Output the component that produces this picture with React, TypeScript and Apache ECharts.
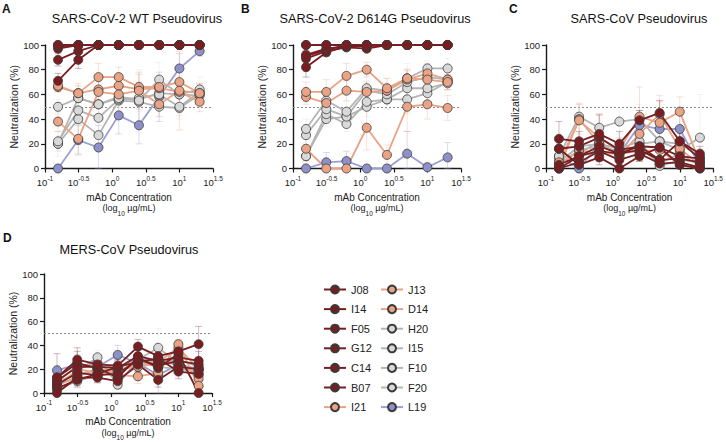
import React, { useEffect, useRef } from "react";
import * as echarts from "echarts";

// Concentrations (µg/mL), 2-fold dilutions
const concentrations = [0.15625, 0.3125, 0.625, 1.25, 2.5, 5, 10, 20];
const xTickExponents = [-1, -0.5, 0, 0.5, 1, 1.5];
const yTicks = [0, 20, 40, 60, 80, 100];

const antibodies = ["J08", "I14", "F05", "G12", "C14", "B07", "I21", "J13", "D14", "H20", "I15", "F10", "F20", "L19"];
const antibodyGroups = ["maroon", "maroon", "maroon", "maroon", "maroon", "maroon", "salmon", "salmon", "salmon", "gray", "gray", "gray", "gray", "blue"];

// Neutralization (%) per antibody (rows in antibody order), per concentration
const wtNeutralization = [
  [100, 100, 100, 100, 100, 100, 100, 100],
  [99, 100, 100, 100, 100, 100, 100, 100],
  [100, 100, 100, 100, 100, 100, 100, 100],
  [97, 100, 100, 100, 100, 100, 100, 100],
  [88, 95, 100, 100, 100, 100, 100, 100],
  [71, 88, 100, 100, 100, 100, 100, 100],
  [38, 24, 62, 60, 63, 52, 63, 61],
  [67, 61, 74, 74, 66, 66, 70, 61],
  [66, 61, 64, 67, 64, 65, 62, 54],
  [50, 57, 52, 57, 55, 72, 60, 64],
  [22, 47, 41, 56, 57, 60, 50, 62],
  [20, 40, 27, 55, 54, 50, 49, 60],
  [20, 57, 52, 58, 56, 61, 60, 59],
  [0, 23, 17, 43, 35, 58, 81, 95],
];
const wtError = [
  [0, 0, 0, 0, 0, 0, 0, 0],
  [1, 0, 0, 0, 0, 0, 0, 0],
  [2, 0, 0, 0, 0, 0, 0, 0],
  [3, 2, 0, 0, 0, 0, 0, 0],
  [5, 8, 0, 0, 0, 0, 0, 0],
  [6, 7, 1, 0, 0, 0, 0, 0],
  [8, 12, 10, 8, 15, 10, 32, 8],
  [5, 8, 11, 8, 10, 6, 8, 8],
  [4, 6, 6, 10, 6, 8, 10, 8],
  [6, 10, 8, 8, 25, 14, 15, 10],
  [8, 12, 10, 10, 20, 10, 10, 6],
  [10, 14, 12, 8, 15, 8, 6, 8],
  [6, 6, 8, 8, 10, 10, 8, 6],
  [0, 12, 18, 15, 15, 20, 12, 4],
];

const d614gNeutralization = [
  [100, 100, 100, 100, 100, 100, 100, 100],
  [100, 100, 100, 100, 100, 100, 100, 100],
  [92, 97, 99, 99, 100, 100, 100, 100],
  [89, 95, 98, 97, 100, 100, 100, 100],
  [82, 94, 99, 100, 100, 100, 100, 100],
  [91, 96, 100, 100, 100, 100, 100, 100],
  [16, 0, 0, 33, 11, 50, 52, 49],
  [62, 62, 75, 80, 65, 73, 72, 70],
  [58, 53, 63, 62, 63, 72, 77, 72],
  [32, 55, 46, 65, 63, 73, 81, 81],
  [27, 48, 42, 63, 60, 70, 74, 72],
  [10, 44, 36, 54, 56, 65, 65, 69],
  [10, 40, 42, 50, 56, 56, 61, 70],
  [0, 5, 6, 0, 0, 12, 1, 9],
];
const d614gError = [
  [0, 0, 0, 0, 0, 0, 0, 0],
  [0, 0, 0, 0, 0, 0, 0, 0],
  [3, 2, 1, 1, 0, 0, 0, 0],
  [4, 2, 1, 2, 0, 0, 0, 0],
  [8, 3, 1, 0, 0, 0, 0, 0],
  [4, 2, 0, 0, 0, 0, 0, 0],
  [10, 0, 0, 18, 8, 20, 12, 10],
  [8, 10, 10, 6, 8, 6, 8, 6],
  [6, 10, 8, 8, 6, 8, 8, 8],
  [8, 8, 8, 10, 10, 8, 6, 8],
  [8, 8, 6, 8, 8, 10, 8, 6],
  [6, 6, 6, 8, 8, 20, 10, 6],
  [6, 6, 6, 8, 8, 12, 8, 6],
  [0, 8, 8, 2, 2, 18, 4, 12],
];

const sarsNeutralization = [
  [24, 22, 28, 20, 39, 45, 22, 12],
  [16, 18, 25, 15, 18, 17, 10, 8],
  [3, 10, 18, 12, 15, 7, 8, 5],
  [0, 5, 14, 7, 12, 4, 5, 1],
  [16, 3, 9, 0, 10, 17, 3, 0],
  [0, 10, 14, 12, 18, 7, 22, 8],
  [5, 39, 25, 15, 42, 37, 46, 5],
  [0, 40, 20, 10, 28, 44, 16, 3],
  [3, 15, 12, 12, 14, 15, 3, 0],
  [10, 42, 33, 38, 40, 22, 15, 25],
  [5, 18, 20, 16, 22, 2, 7, 5],
  [2, 15, 18, 14, 17, 4, 12, 2],
  [8, 12, 22, 10, 20, 22, 20, 10],
  [10, 0, 20, 12, 35, 32, 32, 2],
];
const sarsError = [
  [14, 8, 16, 10, 8, 10, 8, 6],
  [8, 6, 10, 6, 6, 8, 6, 4],
  [4, 6, 8, 6, 6, 6, 4, 4],
  [2, 4, 6, 4, 6, 4, 4, 2],
  [8, 4, 6, 2, 4, 8, 4, 2],
  [2, 6, 8, 6, 8, 6, 10, 6],
  [6, 14, 18, 10, 24, 22, 12, 6],
  [2, 12, 10, 6, 10, 10, 10, 4],
  [4, 8, 6, 8, 8, 8, 4, 2],
  [8, 10, 10, 10, 12, 12, 10, 35],
  [4, 8, 8, 8, 8, 4, 6, 4],
  [2, 6, 8, 6, 8, 4, 8, 2],
  [6, 6, 8, 6, 8, 8, 10, 6],
  [8, 2, 10, 8, 12, 16, 14, 2],
];

const mersNeutralization = [
  [13, 28, 24, 23, 39, 31, 35, 41],
  [10, 22, 22, 21, 31, 27, 30, 27],
  [7, 17, 15, 16, 28, 23, 27, 24],
  [0, 13, 13, 10, 24, 11, 22, 20],
  [4, 11, 16, 22, 26, 29, 18, 16],
  [13, 25, 21, 13, 30, 21, 33, 0],
  [5, 20, 17, 15, 14, 17, 41, 6],
  [10, 15, 20, 19, 24, 26, 38, 20],
  [8, 12, 14, 20, 22, 25, 25, 12],
  [8, 18, 30, 7, 28, 38, 25, 15],
  [6, 14, 20, 12, 22, 30, 22, 20],
  [3, 10, 15, 18, 26, 22, 20, 18],
  [10, 22, 25, 20, 30, 25, 28, 22],
  [19, 24, 22, 32, 25, 15, 24, 20],
];
const mersError = [
  [20, 10, 6, 6, 6, 6, 6, 15],
  [6, 8, 6, 6, 6, 6, 6, 8],
  [4, 6, 4, 6, 6, 6, 6, 6],
  [2, 6, 4, 6, 6, 6, 6, 6],
  [4, 6, 4, 6, 6, 6, 6, 6],
  [6, 10, 6, 6, 6, 8, 6, 2],
  [4, 10, 8, 6, 6, 8, 4, 6],
  [6, 6, 8, 6, 6, 8, 6, 6],
  [4, 6, 6, 6, 6, 6, 6, 6],
  [4, 8, 6, 4, 8, 16, 6, 6],
  [4, 6, 6, 6, 6, 8, 6, 6],
  [2, 6, 6, 6, 6, 6, 6, 6],
  [6, 8, 6, 6, 6, 6, 6, 6],
  [4, 8, 8, 8, 8, 15, 6, 6],
];

const panelLetters = ["A", "B", "C", "D"];
const panelTitles = ["SARS-CoV-2 WT Pseudovirus", "SARS-CoV-2 D614G Pseudovirus", "SARS-CoV Pseudovirus", "MERS-CoV Pseudovirus"];

const FONT = '"Liberation Sans", Arial, Helvetica, sans-serif';

const groupStyle: Record<string, { fill: string; line: string }> = {
  maroon: { fill: "#7a1d20", line: "#7a1d20" },
  salmon: { fill: "#eba385", line: "#e9a384" },
  gray: { fill: "#d9d9d9", line: "#b4b4b4" },
  blue: { fill: "#8d91c8", line: "#9a9ed8" },
};
const groupNames = ["maroon", "salmon", "gray", "blue"];

const panels = [
  { values: wtNeutralization, errors: wtError, grid: { left: 45, top: 45, width: 168, height: 123.5 }, titleX: 137, titleY: 19, letterX: 2, letterY: 3 },
  { values: d614gNeutralization, errors: d614gError, grid: { left: 293, top: 45, width: 168, height: 123.5 }, titleX: 375, titleY: 19, letterX: 241, letterY: 3 },
  { values: sarsNeutralization, errors: sarsError, grid: { left: 546, top: 45, width: 168, height: 123.5 }, titleX: 639, titleY: 19, letterX: 509, letterY: 3 },
  { values: mersNeutralization, errors: mersError, grid: { left: 44, top: 274, width: 168, height: 123 }, titleX: 129, titleY: 250, letterX: 3, letterY: 232 },
];

function fmtExp(v: number) {
  const r = Math.round(v * 10) / 10;
  return String(r);
}

export default function App() {
  const ref = useRef<HTMLDivElement>(null);
  useEffect(() => {
    if (!ref.current) return;
    const chart = echarts.init(ref.current, undefined, { renderer: "svg" });
    const logX = concentrations.map((c) => Math.log10(c));

    const grids: any[] = [];
    const xAxes: any[] = [];
    const yAxes: any[] = [];
    const series: any[] = [];
    const graphics: any[] = [];

    panels.forEach((p, pi) => {
      grids.push({ ...p.grid, containLabel: false });
      xAxes.push({
        type: "value",
        gridIndex: pi,
        min: -1,
        max: 1.5,
        interval: 0.5,
        splitLine: { show: false },
        axisLine: { show: true, onZero: false, lineStyle: { color: "#1a1a1a", width: 1.4 } },
        axisTick: { show: true, length: 4, lineStyle: { color: "#1a1a1a", width: 1.2 } },
        axisLabel: {
          margin: 6,
          formatter: (v: number) => `{b|10}{s|${fmtExp(v)}}`,
          rich: {
            b: { fontSize: 9.5, fontFamily: FONT, color: "#222", lineHeight: 13, verticalAlign: "bottom" },
            s: { fontSize: 6.5, fontFamily: FONT, color: "#222", lineHeight: 13, verticalAlign: "top" },
          },
        },
        name: "mAb Concentration\n{p|(log}{sub|10}{p| µg/mL)}",
        nameLocation: "middle",
        nameGap: 22,
        nameTextStyle: {
          fontSize: 10,
          fontFamily: FONT,
          color: "#222",
          lineHeight: 13,
          rich: {
            p: { fontSize: 9, fontFamily: FONT, color: "#222", lineHeight: 13, verticalAlign: "top" },
            sub: { fontSize: 6.5, fontFamily: FONT, color: "#222", lineHeight: 13, verticalAlign: "bottom" },
          },
        },
      });
      yAxes.push({
        type: "value",
        gridIndex: pi,
        min: 0,
        max: 100,
        interval: 20,
        splitLine: { show: false },
        axisLine: { show: true, onZero: false, lineStyle: { color: "#1a1a1a", width: 1.4 } },
        axisTick: { show: true, length: 4, lineStyle: { color: "#1a1a1a", width: 1.2 } },
        axisLabel: { margin: 6, fontSize: 9.5, fontFamily: FONT, color: "#222" },
        name: "Neutralization (%)",
        nameLocation: "middle",
        nameGap: 26,
        nameRotate: 90,
        nameTextStyle: { fontSize: 10.5, fontFamily: FONT, color: "#222" },
      });

      // faint error bars (mean ± SD)
      const errData: any[] = [];
      for (let i = antibodies.length - 1; i >= 0; i--) {
        p.values[i].forEach((v, k) => {
          errData.push([logX[k], v, p.errors[i][k], groupNames.indexOf(antibodyGroups[i])]);
        });
      }
      series.push({
        type: "custom",
        xAxisIndex: pi,
        yAxisIndex: pi,
        silent: true,
        z: 1,
        data: errData,
        renderItem: (params: any, api: any) => {
          const x = api.value(0);
          const y = api.value(1);
          const e = api.value(2);
          if (!e) return null;
          const g = groupNames[api.value(3)];
          const lo = Math.max(0, y - e);
          const hi = Math.min(108, y + e);
          const pLo = api.coord([x, lo]);
          const pHi = api.coord([x, hi]);
          const col = groupStyle[g].fill;
          const ls = { stroke: col, lineWidth: 1, opacity: 0.32 };
          return {
            type: "group",
            children: [
              { type: "line", shape: { x1: pLo[0], y1: pLo[1], x2: pHi[0], y2: pHi[1] }, style: ls },
              { type: "line", shape: { x1: pHi[0] - 3.5, y1: pHi[1], x2: pHi[0] + 3.5, y2: pHi[1] }, style: ls },
              { type: "line", shape: { x1: pLo[0] - 3.5, y1: pLo[1], x2: pLo[0] + 3.5, y2: pLo[1] }, style: ls },
            ],
          };
        },
      });

      // draw in reverse so the first antibodies sit on top
      for (let i = antibodies.length - 1; i >= 0; i--) {
        const st = groupStyle[antibodyGroups[i]];
        const s: any = {
          type: "line",
          name: antibodies[i],
          xAxisIndex: pi,
          yAxisIndex: pi,
          data: p.values[i].map((v, k) => [logX[k], v]),
          symbol: "circle",
          symbolSize: 9,
          showSymbol: true,
          lineStyle: { color: st.line, width: 1.8 },
          itemStyle: { color: st.fill, borderColor: "#3a3a3a", borderWidth: 0.8 },
          emphasis: { disabled: true },
          z: 3,
        };
        if (i === antibodies.length - 1) {
          s.markLine = {
            silent: true,
            symbol: "none",
            label: { show: false },
            lineStyle: { type: [2, 2], color: "#8a8a8a", width: 1 },
            data: [{ yAxis: 50 }],
            z: 1,
          };
        }
        series.push(s);
      }

      graphics.push({
        type: "text",
        x: p.letterX,
        y: p.letterY,
        style: { text: panelLetters[pi], font: `bold 12px ${FONT}`, fill: "#111" },
      });
      graphics.push({
        type: "text",
        x: p.titleX,
        y: p.titleY,
        style: { text: panelTitles[pi], font: `12.7px ${FONT}`, fill: "#111", textAlign: "center", textVerticalAlign: "middle" },
      });
    });

    const legendBase = {
      orient: "vertical",
      top: 279,
      itemWidth: 22,
      itemHeight: 10,
      itemGap: 8.6,
      selectedMode: false,
      textStyle: { fontSize: 11, fontFamily: FONT, color: "#222", lineHeight: 10 },
    };

    chart.setOption({
      animation: false,
      grid: grids,
      xAxis: xAxes,
      yAxis: yAxes,
      series,
      graphic: graphics,
      legend: [
        { ...legendBase, left: 318, data: antibodies.slice(0, 7) },
        { ...legendBase, left: 375, data: antibodies.slice(7) },
      ],
    });
    return () => chart.dispose();
  }, []);
  return <div ref={ref} style={{ position: "fixed", left: 0, top: 0, width: 726, height: 442, background: "#fff" }} />;
}
